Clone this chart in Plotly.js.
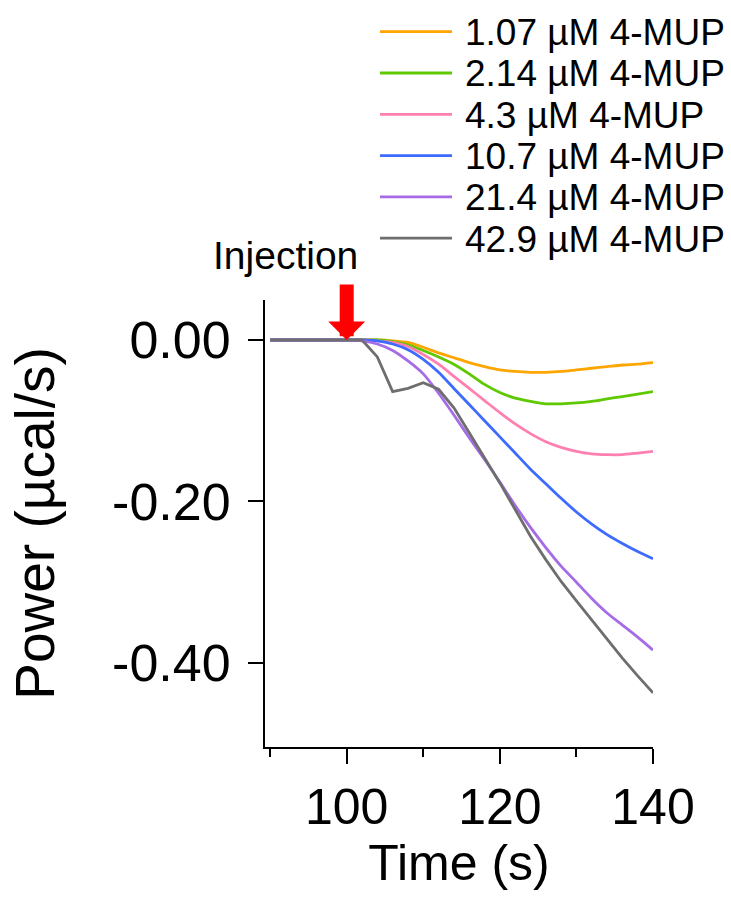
<!DOCTYPE html>
<html>
<head>
<meta charset="utf-8">
<script src="https://cdn.plot.ly/plotly-3.0.1.min.js"></script>
<style>html,body{margin:0;padding:0;background:#fff;}</style>
</head>
<body>
<div id="chart" style="width:731px;height:900px;"></div>
<script>
// ---- data ----
const time = [90,92,94,96,98,100,102,104,106,108,110,112,114,116,118,120,122,124,126,128,130,132,134,136,138,140];
const mup107 = [0,0,0,0,0,0,0,0,-0.001,-0.003,-0.009,-0.016,-0.022,-0.028,-0.033,-0.037,-0.039,-0.040,-0.040,-0.039,-0.037,-0.035,-0.033,-0.031,-0.030,-0.028];
const mup214 = [0,0,0,0,0,0,0,0,-0.002,-0.006,-0.013,-0.021,-0.030,-0.042,-0.055,-0.065,-0.072,-0.076,-0.079,-0.079,-0.078,-0.076,-0.073,-0.070,-0.067,-0.064];
const mup43  = [0,0,0,0,0,0,0,-0.001,-0.003,-0.008,-0.018,-0.030,-0.045,-0.060,-0.075,-0.090,-0.104,-0.116,-0.126,-0.133,-0.138,-0.141,-0.142,-0.142,-0.140,-0.138];
const mup107b = [0,0,0,0,0,0,0,-0.001,-0.005,-0.012,-0.024,-0.040,-0.060,-0.080,-0.100,-0.120,-0.140,-0.160,-0.178,-0.196,-0.213,-0.228,-0.241,-0.252,-0.262,-0.271];
const mup214b = [0,0,0,0,0,0,-0.001,-0.005,-0.013,-0.026,-0.042,-0.066,-0.093,-0.121,-0.148,-0.176,-0.205,-0.232,-0.257,-0.280,-0.300,-0.320,-0.338,-0.353,-0.368,-0.384];
const mup429 = [0,0,0,0,0,0,0,-0.021,-0.064,-0.060,-0.053,-0.061,-0.084,-0.115,-0.146,-0.177,-0.210,-0.243,-0.272,-0.299,-0.323,-0.347,-0.371,-0.394,-0.416,-0.437];

const seriesNames = ['1.07 µM 4-MUP','2.14 µM 4-MUP','4.3 µM 4-MUP','10.7 µM 4-MUP','21.4 µM 4-MUP','42.9 µM 4-MUP'];
const seriesValues = [mup107, mup214, mup43, mup107b, mup214b, mup429];
const seriesColors = ['#FFA500','#5EC800','#FF80B0','#3D6BFF','#A66BE6','#6E6E6E'];
const seriesShapes = ['spline','spline','spline','spline','spline','linear'];

const xTickVals = [100,120,140];
const xTickText = ['100','120','140'];
const xMinorVals = [90,110,130];
const yTickVals = [0,-0.2,-0.4];
const yTickText = ['0.00','-0.20','-0.40'];
const xTitle = 'Time (s)';
const yTitle = 'Power (µcal/s)';

const injectionTime = 100;

// ---- traces ----
const traces = seriesNames.map((name, i) => ({
  type: 'scatter', mode: 'lines', name: name,
  x: time, y: seriesValues[i],
  line: {color: seriesColors[i], width: 2.8, shape: seriesShapes[i], smoothing: 0.6},
  hoverinfo: 'skip'
}));

// ---- manual legend (long line samples like the reference) ----
const plotL = 265, plotR = 653, plotT = 300, plotB = 747;
const pw = plotR - plotL, ph = plotB - plotT;
const px2paperX = p => (p - plotL) / pw;
const px2paperY = p => (plotB - p) / ph;

const shapes = [];
const annotations = [];
seriesNames.forEach((name, i) => {
  const rowY = 31.7 + 41.3 * i;
  shapes.push({type: 'line', xref: 'paper', yref: 'paper',
    x0: px2paperX(380), x1: px2paperX(452), y0: px2paperY(rowY), y1: px2paperY(rowY),
    line: {color: seriesColors[i], width: 2.8}});
  annotations.push({xref: 'paper', yref: 'paper', x: px2paperX(463), y: px2paperY(rowY + 1),
    xanchor: 'left', yanchor: 'middle', showarrow: false, text: name,
    font: {size: 37, color: '#000'}});
});

// injection arrow + label
annotations.push({x: injectionTime, y: 0, xref: 'x', yref: 'y', ax: 0, ay: -57,
  showarrow: true, arrowhead: 1, arrowsize: 0.44, arrowwidth: 14, arrowcolor: '#FF0000', text: ''});
annotations.push({xref: 'paper', yref: 'paper', x: px2paperX(285), y: px2paperY(255),
  xanchor: 'center', yanchor: 'middle', showarrow: false, text: 'Injection',
  font: {size: 39, color: '#000'}});

const layout = {
  width: 731, height: 900,
  margin: {l: plotL, r: 731 - plotR, t: plotT, b: 900 - plotB},
  paper_bgcolor: '#fff', plot_bgcolor: '#fff',
  showlegend: false,
  font: {family: 'Liberation Sans, Arial, sans-serif', color: '#000'},
  xaxis: {
    range: [89.33, 140], tickmode: 'array', tickvals: xTickVals, ticktext: xTickText,
    ticks: 'outside', ticklen: 15, tickwidth: 2, tickcolor: '#000',
    showline: true, linewidth: 2, linecolor: '#000', showgrid: false, zeroline: false,
    tickfont: {size: 50},
    minor: {tickmode: 'array', tickvals: xMinorVals, ticks: 'outside', ticklen: 8, tickwidth: 2, tickcolor: '#000', showgrid: false},
    title: {text: xTitle, font: {size: 50}, standoff: 2},
    automargin: false, fixedrange: true
  },
  yaxis: {
    range: [-0.504, 0.0495], tickmode: 'array', tickvals: yTickVals, ticktext: yTickText,
    ticks: 'outside', ticklen: 15, tickwidth: 2, tickcolor: '#000',
    showline: true, linewidth: 2, linecolor: '#000', showgrid: false, zeroline: false,
    tickfont: {size: 52}, ticklabelstandoff: 7,
    title: {text: yTitle, font: {size: 55}, standoff: 40},
    automargin: false, fixedrange: true
  },
  shapes: shapes,
  annotations: annotations
};

Plotly.newPlot('chart', traces, layout, {staticPlot: true, displayModeBar: false});
</script>
</body>
</html>
